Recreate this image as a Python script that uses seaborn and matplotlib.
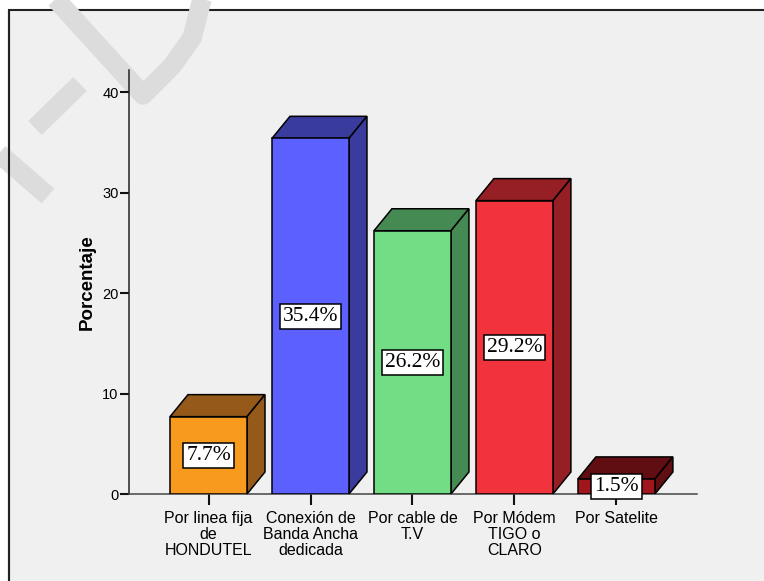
import matplotlib
matplotlib.use("Agg")
import matplotlib.pyplot as plt
import seaborn as sns
from matplotlib.patches import Polygon, Rectangle
from matplotlib.lines import Line2D

categories = ["Por linea fija\nde\nHONDUTEL", "Conexión de\nBanda Ancha\ndedicada",
              "Por cable de\nT.V", "Por Módem\nTIGO o\nCLARO", "Por Satelite"]
values = [7.7, 35.4, 26.2, 29.2, 1.5]
front_colors = ["#F89A1E", "#5C60FE", "#72DD85", "#F0333C", "#A1161D"]
side_colors = ["#955A19", "#393C9D", "#468A53", "#951F24", "#610E12"]
yticks = [0, 10, 20, 30, 40]
ylabel = "Porcentaje"

sns.set_theme(style="white")
plt.rcParams["font.family"] = ["Liberation Sans", "DejaVu Sans"]
plt.rcParams.update({"text.color": "black", "axes.labelcolor": "black",
                     "xtick.color": "black", "ytick.color": "black"})

W, H = 764, 581
fig = plt.figure(figsize=(W / 100, H / 100), dpi=100, facecolor="white")

# background frame + watermark
bg = fig.add_axes([0, 0, 1, 1], zorder=-1)
bg.set_xlim(0, W)
bg.set_ylim(H, 0)
bg.axis("off")
bg.add_patch(Rectangle((9, 10), W, H, facecolor="#f0f0f0", edgecolor="#222222", lw=1.5))
wm = dict(color="#dcdcdc", lw=14, solid_capstyle="butt", solid_joinstyle="round", zorder=2)
bg.add_line(Line2D([52, 143, 172, 192, 203], [-5, 95, 66, 38, -5], **wm))
bg.add_line(Line2D([80, 35], [84, 128], **wm))
bg.add_line(Line2D([-5, 48], [150, 196], **wm))
bg.add_line(Line2D([9, 9], [10, H], color="#222222", lw=1.5, zorder=3))

ax = fig.add_axes([129 / W, 1 - 494 / H, (697 - 129) / W, (494 - 70) / H], zorder=1)
ax.set_facecolor("none")

sns.barplot(x=categories, y=values, hue=categories, palette=front_colors, saturation=1,
            width=0.755, edgecolor="black", linewidth=1.1, legend=False, ax=ax, zorder=3)

ax.set_xlim(-0.78, 4.79)
ax.set_ylim(0, 42.2)

dx, dy = 0.176, 2.19
for p, sc, v in zip(ax.patches, side_colors, values):
    x0, w, h = p.get_x(), p.get_width(), p.get_height()
    top = Polygon([(x0, h), (x0 + dx, h + dy), (x0 + w + dx, h + dy), (x0 + w, h)],
                  closed=True, facecolor=sc, edgecolor="black", lw=1.1, zorder=2, clip_on=False)
    side = Polygon([(x0 + w, 0), (x0 + w, h), (x0 + w + dx, h + dy), (x0 + w + dx, dy)],
                   closed=True, facecolor=sc, edgecolor="black", lw=1.1, zorder=2, clip_on=False)
    ax.add_patch(top)
    ax.add_patch(side)
    ax.text(x0 + w / 2, h / 2, f"{v}%", ha="center", va="center", fontsize=15.5,
            family=["Liberation Serif", "DejaVu Serif"], zorder=5, color="black",
            bbox=dict(boxstyle="square,pad=0.14", facecolor="white", edgecolor="black", lw=1.1))

ax.set_yticks(yticks)
ax.set_ylabel(ylabel, fontsize=13.5, fontweight="bold", labelpad=5)
ax.set_xlabel("")
for s in ["top", "right"]:
    ax.spines[s].set_visible(False)
ax.spines["left"].set_color("#222222")
ax.spines["bottom"].set_color("#444444")
ax.spines["left"].set_linewidth(1.1)
ax.spines["bottom"].set_linewidth(1.1)
ax.tick_params(axis="y", which="major", left=True, length=6.5, width=1.5, color="#111111",
               labelsize=10.5, pad=1)
ax.tick_params(axis="x", which="major", bottom=True, length=8, width=1.5, color="#111111",
               labelsize=11.5, pad=4.5)
for t in ax.get_xticklabels():
    t.set_linespacing(1.08)

fig.savefig("out.png", dpi=100, facecolor="white")
